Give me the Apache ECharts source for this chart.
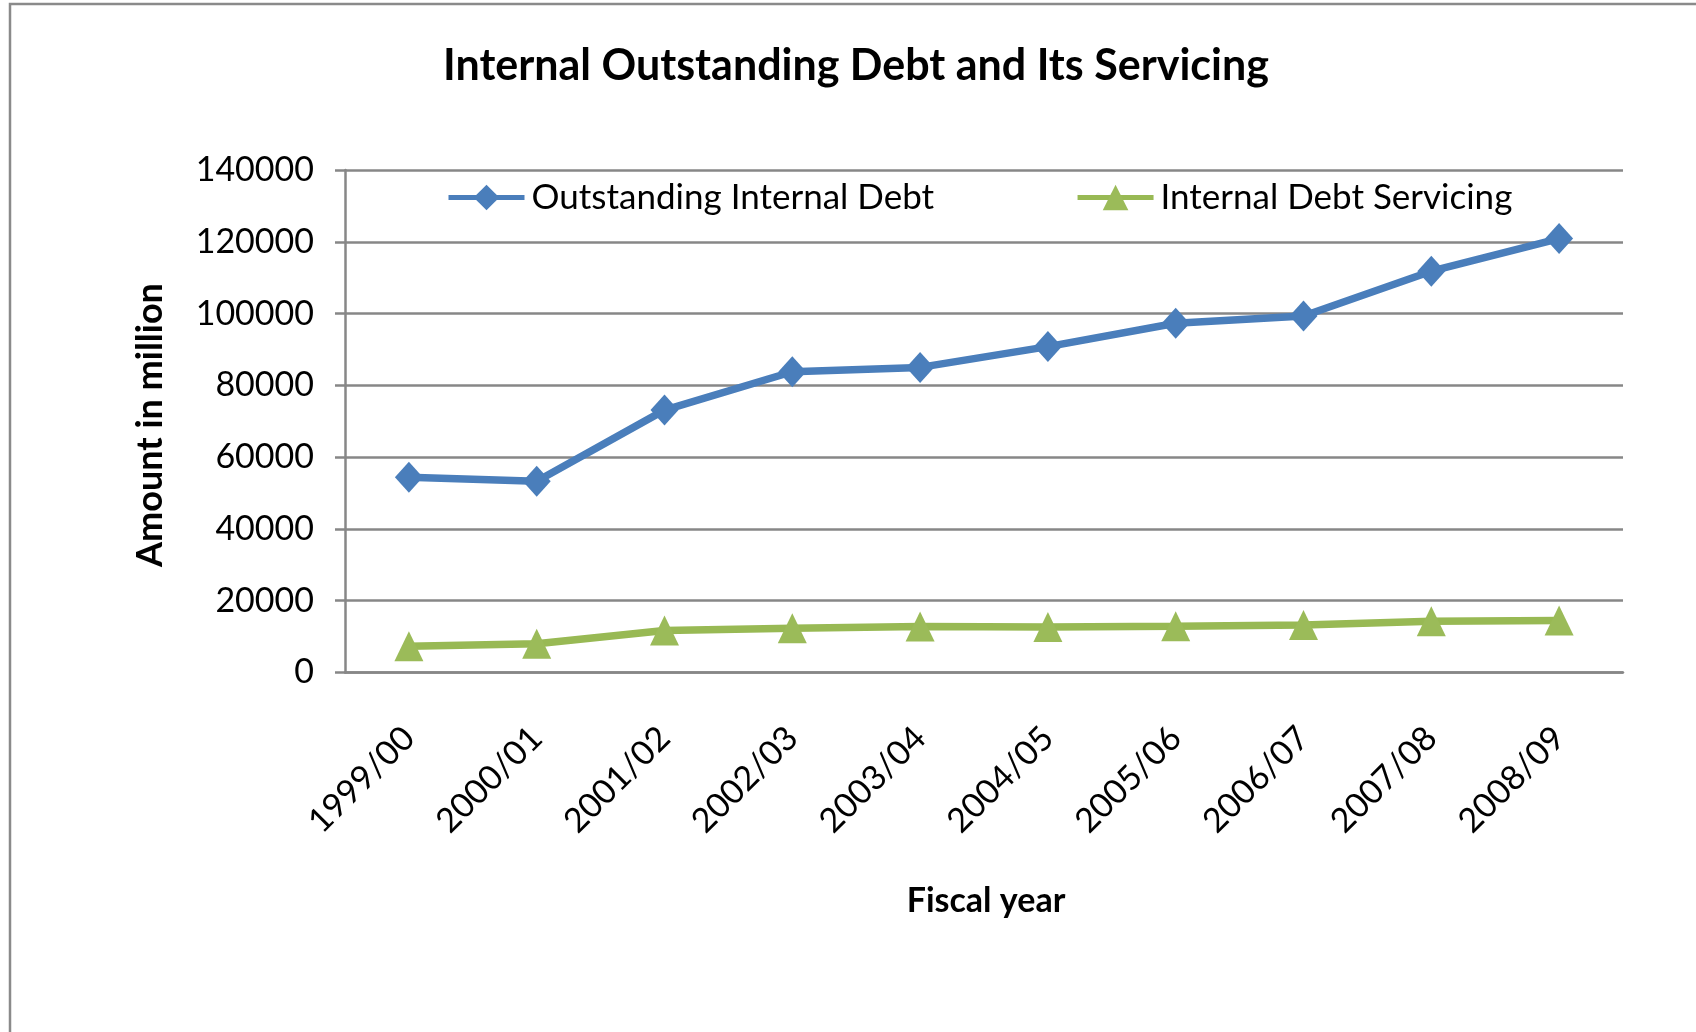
<!DOCTYPE html>
<html>
<head>
<meta charset="utf-8">
<title>Internal Outstanding Debt and Its Servicing</title>
<script src="https://cdn.jsdelivr.net/npm/echarts@6/dist/echarts.min.js"></script>
<style>
  html, body { margin: 0; padding: 0; background: #ffffff; }
  #chart { width: 1696px; height: 1032px; }
</style>
</head>
<body>
<div id="chart"></div>
<script>
// Fiscal years on the category axis
const fiscalYears = ['1999/00', '2000/01', '2001/02', '2002/03', '2003/04',
                     '2004/05', '2005/06', '2006/07', '2007/08', '2008/09'];

// Amounts in million
const outstandingDebt = [54400, 53300, 73100, 83800, 85000, 90800, 97300, 99300, 111800, 120900];
const debtServicing   = [7300, 8000, 11700, 12300, 12800, 12700, 12900, 13200, 14300, 14500];

const seriesNames = ['Outstanding Internal Debt', 'Internal Debt Servicing'];

const FONT = 'Lato, "Open Sans", "Liberation Sans", sans-serif';
const GRID_GREY = '#878787';
const BLUE = '#4A7EBB';
const GREEN = '#98B954';

const chart = echarts.init(document.getElementById('chart'), null, { renderer: 'canvas' });

chart.setOption({
  animation: false,
  backgroundColor: '#ffffff',
  textStyle: { fontFamily: FONT },
  graphic: [
    // outer chart frame
    {
      type: 'rect',
      shape: { x: 10, y: 4, width: 1800, height: 1200 },
      style: { fill: 'none', stroke: '#8a8a8a', lineWidth: 2.5 },
      silent: true
    },
    {
      type: 'text',
      x: 856, y: 66,
      style: {
        text: 'Internal Outstanding Debt and Its Servicing',
        fontFamily: FONT, fontWeight: 'bold', fontSize: 43,
        fill: '#000000', align: 'center', verticalAlign: 'middle'
      }
    },
    {
      type: 'text',
      x: 986, y: 901,
      style: {
        text: 'Fiscal year',
        fontFamily: FONT, fontWeight: 'bold', fontSize: 34,
        fill: '#000000', align: 'center', verticalAlign: 'middle'
      }
    },
    {
      type: 'text',
      x: 150, y: 425,
      rotation: Math.PI / 2,
      style: {
        text: 'Amount in million',
        fontFamily: FONT, fontWeight: 'bold', fontSize: 36,
        fill: '#000000', align: 'center', verticalAlign: 'middle'
      }
    }
  ],
  legend: {
    data: seriesNames,
    left: 446,
    top: 180,
    padding: 0,
    itemWidth: 76,
    itemHeight: 32,
    itemGap: 141,
    lineStyle: { width: 5 },
    textStyle: { fontFamily: FONT, fontSize: 35, color: '#000000', padding: [0, 0, 0, 2] }
  },
  grid: {
    left: 345,
    right: 73,
    top: 170,
    bottom: 359.5,
    containLabel: false
  },
  xAxis: {
    type: 'category',
    data: fiscalYears,
    boundaryGap: true,
    axisLine: { show: true, lineStyle: { color: GRID_GREY, width: 2.5 } },
    axisTick: { show: false },
    axisLabel: {
      rotate: 45,
      margin: 60,
      fontFamily: FONT,
      fontSize: 34,
      color: '#000000',
      interval: 0
    },
    splitLine: { show: false }
  },
  yAxis: {
    type: 'value',
    min: 0,
    max: 140000,
    interval: 20000,
    axisLine: { show: true, lineStyle: { color: GRID_GREY, width: 2.5 } },
    axisTick: { show: true, inside: false, length: 10, lineStyle: { color: GRID_GREY, width: 2.5 } },
    axisLabel: {
      margin: 31,
      fontFamily: FONT,
      fontSize: 34,
      color: '#000000',
      formatter: (v) => String(v)
    },
    splitLine: { show: true, lineStyle: { color: GRID_GREY, width: 2.5 } }
  },
  series: [
    {
      name: seriesNames[0],
      type: 'line',
      data: outstandingDebt,
      symbol: 'diamond',
      symbolSize: [28, 31],
      showAllSymbol: true,
      lineStyle: { color: BLUE, width: 7.5 },
      itemStyle: { color: BLUE },
      z: 3
    },
    {
      name: seriesNames[1],
      type: 'line',
      data: debtServicing,
      symbol: 'triangle',
      symbolSize: [29, 30],
      showAllSymbol: true,
      lineStyle: { color: GREEN, width: 7.5 },
      itemStyle: { color: '#9BBB59' },
      z: 4
    }
  ]
});
</script>
</body>
</html>
